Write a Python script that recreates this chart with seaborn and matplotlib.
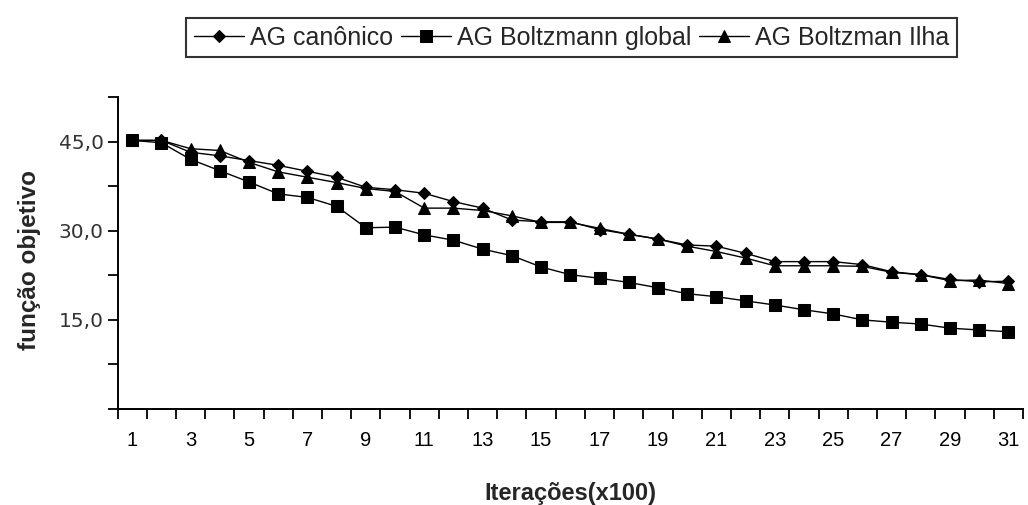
import matplotlib
matplotlib.use("Agg")
import matplotlib.pyplot as plt
from matplotlib import font_manager
from matplotlib.ticker import FixedLocator, FixedFormatter
import seaborn as sns
import pandas as pd

# ---------------- data ----------------
iteracoes = list(range(1, 32))
ag_canonico = [45.2, 45.2, 43.2, 42.6, 41.8, 41.0, 40.0, 39.0, 37.3, 36.9, 36.3,
               34.9, 33.8, 31.8, 31.5, 31.5, 30.2, 29.4, 28.6, 27.6, 27.4, 26.2,
               24.8, 24.8, 24.8, 24.3, 23.1, 22.6, 21.8, 21.4, 21.5]
ag_boltz_global = [45.2, 44.8, 42.0, 40.1, 38.2, 36.2, 35.6, 34.1, 30.5, 30.6,
                   29.3, 28.4, 26.9, 25.8, 23.9, 22.6, 22.0, 21.3, 20.4, 19.4,
                   18.9, 18.2, 17.5, 16.7, 16.0, 15.0, 14.6, 14.3, 13.6, 13.3, 13.0]
ag_boltz_ilha = [45.2, 45.2, 43.8, 43.5, 41.5, 39.9, 39.0, 38.1, 37.1, 36.6, 33.8,
                 33.8, 33.4, 32.5, 31.4, 31.4, 30.4, 29.4, 28.6, 27.4, 26.5, 25.4,
                 24.1, 24.1, 24.1, 24.0, 23.0, 22.6, 21.6, 21.7, 21.1]
series_names = ["AG canônico", "AG Boltzmann global", "AG Boltzman Ilha"]
x_tick_labels = [str(v) for v in range(1, 32, 2)]
y_tick_values = [0, 7.5, 15, 22.5, 30, 37.5, 45, 52.5]
y_tick_labels = ["", "", "15,0", "", "30,0", "", "45,0", ""]
x_title = "Iterações(x100)"
y_title = "função objetivo"

# ---------------- style ----------------
sns.set_style("ticks")
names = {f.name for f in font_manager.fontManager.ttflist}
narrow = "Liberation Sans Narrow" if "Liberation Sans Narrow" in names else None
plt.rcParams["font.family"] = ["Liberation Sans", "DejaVu Sans"]

fig = plt.figure(figsize=(10.28, 5.05), dpi=100)
ax = fig.add_axes([117.6 / 1028, (505 - 409) / 505, (1023 - 117.6) / 1028, 312 / 505])

df = pd.DataFrame({"x": iteracoes, "canon": ag_canonico,
                   "glob": ag_boltz_global, "ilha": ag_boltz_ilha})
common = dict(color="black", linewidth=1.0, markeredgecolor="black",
              markerfacecolor="black", ax=ax)
sns.lineplot(data=df, x="x", y="canon", marker="D", markersize=6.5,
             label=series_names[0], **common)
sns.lineplot(data=df, x="x", y="glob", marker="s", markersize=9,
             label=series_names[1], **common)
sns.lineplot(data=df, x="x", y="ilha", marker="^", markersize=9,
             label=series_names[2], **common)

ax.set_xlim(0.5, 31.5)
ax.set_ylim(0, 52.5)
sns.despine(ax=ax)
for s in ("left", "bottom"):
    ax.spines[s].set_linewidth(1.4)
    ax.spines[s].set_color("black")

# x ticks: labels at odd categories, tick marks at boundaries
ax.xaxis.set_major_locator(FixedLocator(list(range(1, 32, 2))))
ax.xaxis.set_major_formatter(FixedFormatter(x_tick_labels))
ax.xaxis.set_minor_locator(FixedLocator([v + 0.5 for v in range(0, 32)]))
ax.tick_params(axis="x", which="major", length=0, pad=16)
ax.tick_params(axis="x", which="minor", length=7, width=1.3, direction="out", color="black")
xfam = [narrow, "Liberation Sans"] if narrow else ["Liberation Sans"]
for lab in ax.get_xticklabels():
    lab.set_fontfamily(xfam)
    lab.set_fontsize(15 if narrow else 14.5)
    lab.set_color("black")

ax.yaxis.set_major_locator(FixedLocator(y_tick_values))
ax.yaxis.set_major_formatter(FixedFormatter(y_tick_labels))
ax.tick_params(axis="y", which="major", length=7, width=1.3, direction="out",
               pad=3, color="black")
for lab in ax.get_yticklabels():
    lab.set_fontfamily(["DejaVu Sans"])
    lab.set_fontsize(14.5)
    lab.set_color("#333333")

ax.set_xlabel(x_title, fontsize=20 if narrow else 17, fontweight="bold", family=xfam)
ax.xaxis.set_label_coords(0.5, -0.235)
ax.set_ylabel(y_title, fontsize=17.5, fontweight="bold")
ax.yaxis.set_label_coords(-0.085, 0.478)

handles, labels = ax.get_legend_handles_labels()
ax.get_legend().remove()
leg = fig.legend(handles, labels, loc="center", bbox_to_anchor=(0.556, 0.925),
                 ncol=3, frameon=True, fancybox=False, edgecolor="black",
                 fontsize=18, handlelength=2.0, handletextpad=0.25,
                 columnspacing=0.3, borderpad=0.3, borderaxespad=0)
leg.get_frame().set_linewidth(1.5)

fig.savefig("out.png", dpi=100)
